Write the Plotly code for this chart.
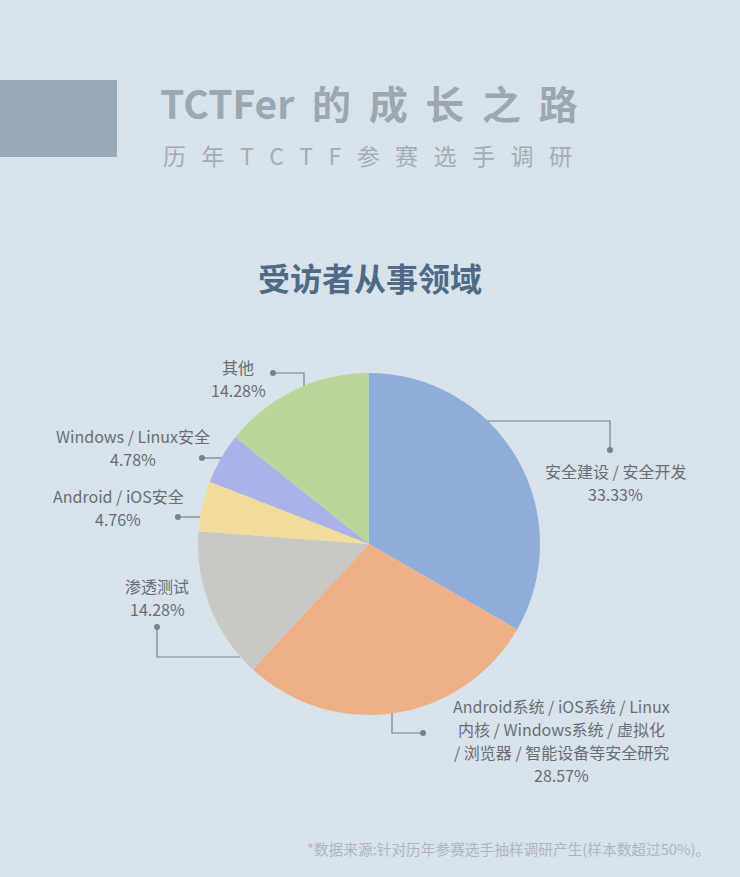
import plotly.graph_objects as go

# data
categories = ["安全建设 / 安全开发",
              "Android系统 / iOS系统 / Linux<br>内核 / Windows系统 / 虚拟化<br>/ 浏览器 / 智能设备等安全研究",
              "渗透测试", "Android / iOS安全", "Windows / Linux安全", "其他"]
shares = [33.33, 28.57, 14.28, 4.76, 4.78, 14.28]
colors = ["#8eaddb", "#eeb187", "#c9c8c4", "#f2dc9b", "#aab3e9", "#b9d79a"]

W, H = 740, 877
BG = "#d8e2ea"
LABEL = "#686e76"
FONT = "Noto Sans CJK SC"
NB = "\u00a0"

# label placement (pixels: centre x, y of first text line)
label_pos = [(615, 471), (561, 706), (157, 586), (118, 496), (133, 436), (238, 367)]
line_step = 23
leaders = [
    [(487, 421), (610, 421), (610, 450)],
    [(392, 712), (392, 733), (423, 733)],
    [(240, 657), (157, 657), (157, 627)],
    [(200, 517), (178, 517)],
    [(224, 458), (202, 458)],
    [(304, 386), (304, 373), (273, 373)],
]

cx, cy, r = 369, 544, 171


def px(x):
    return x / W


def py(y):
    return 1 - y / H


def spaced(s, n):
    return (NB * n).join(s)


fig = go.Figure()
fig.add_trace(go.Pie(
    labels=categories, values=shares, sort=False, direction="clockwise",
    rotation=0, marker=dict(colors=colors, line=dict(width=0)),
    textinfo="none", hoverinfo="label+percent", showlegend=False,
    domain=dict(x=[px(cx - r), px(cx + r)], y=[py(cy + r), py(cy - r)]),
))

# leader lines
lx, ly, dx, dy = [], [], [], []
for pts in leaders:
    for p in pts:
        lx.append(p[0])
        ly.append(p[1])
    lx.append(None)
    ly.append(None)
    dx.append(pts[-1][0])
    dy.append(pts[-1][1])
fig.add_trace(go.Scatter(x=lx, y=ly, mode="lines", line=dict(color="#7b8189", width=1.2),
                         hoverinfo="skip", showlegend=False))
fig.add_trace(go.Scatter(x=dx, y=dy, mode="markers", marker=dict(color="#7b8189", size=6),
                         hoverinfo="skip", showlegend=False))

lab_font = dict(size=16, color=LABEL, family=FONT)
annotations = []
for i, (name, val) in enumerate(zip(categories, shares)):
    x, y = label_pos[i]
    lines = name.split("<br>") + [f"{val:.2f}%"]
    for k, t in enumerate(lines):
        annotations.append(dict(x=px(x), y=py(y + k * line_step), text=t, font=lab_font))

annotations += [
    dict(x=px(369), y=py(102), text="TCTFer" + NB * 2 + spaced("的成长之路", 2),
         font=dict(size=39, color="#9ba7b1", family=FONT, weight="bold")),
    dict(x=px(367), y=py(155), text=spaced("历年TCTF参赛选手调研", 3),
         font=dict(size=23, color="#a3adb6", family=FONT)),
    dict(x=px(370), y=py(277), text="<b>受访者从事领域</b>",
         font=dict(size=32, color="#4f6a86", family=FONT)),
    dict(x=px(712), y=py(848), text="*数据来源:针对历年参赛选手抽样调研产生(样本数超过50%)。",
         xanchor="right", font=dict(size=14.7, color="#adb6bf", family=FONT)),
]
for a in annotations:
    a.setdefault("xref", "paper")
    a.setdefault("yref", "paper")
    a.setdefault("showarrow", False)
    a.setdefault("xanchor", "center")
    a.setdefault("yanchor", "middle")

fig.update_layout(
    width=W, height=H, margin=dict(l=0, r=0, t=0, b=0),
    paper_bgcolor=BG, plot_bgcolor="rgba(0,0,0,0)",
    font=dict(family=FONT),
    xaxis=dict(range=[0, W], visible=False, fixedrange=True, domain=[0, 1]),
    yaxis=dict(range=[H, 0], visible=False, fixedrange=True, domain=[0, 1]),
    annotations=annotations,
    shapes=[dict(type="rect", xref="paper", yref="paper", x0=0, x1=px(117), y0=py(157), y1=py(80),
                 fillcolor="#9aa9b6", line=dict(width=0), layer="below")],
)

fig.write_html("out.html", config={"displayModeBar": False},
               post_script="document.body.style.margin='0';document.body.style.overflow='hidden';")
